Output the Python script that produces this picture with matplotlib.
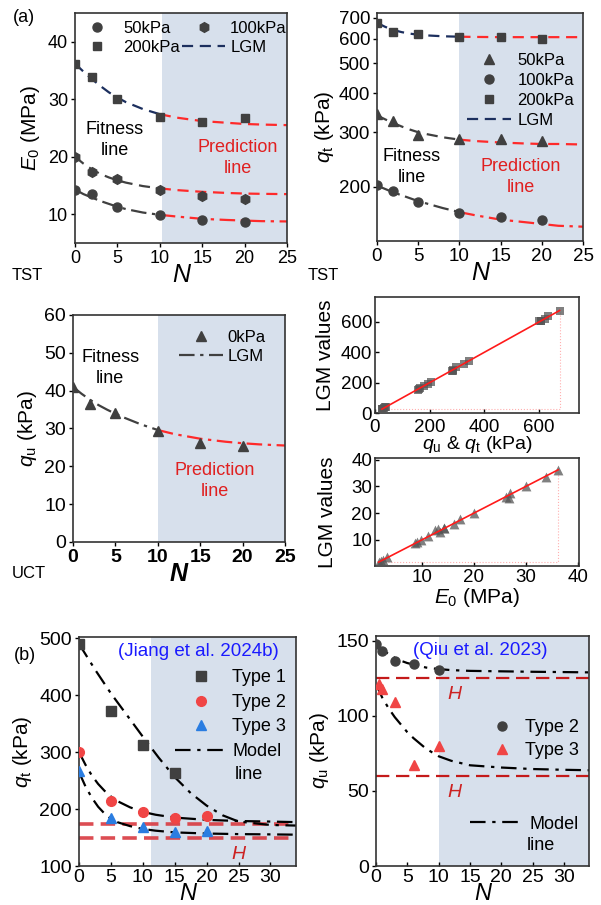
import matplotlib
matplotlib.use("Agg")
import matplotlib.pyplot as plt
from matplotlib.lines import Line2D
from matplotlib.ticker import FixedLocator, FixedFormatter, NullLocator
import numpy as np

plt.rcParams['font.family'] = ['Liberation Sans', 'DejaVu Sans']
plt.rcParams['mathtext.fontset'] = 'custom'
plt.rcParams['mathtext.rm'] = 'Liberation Sans'
plt.rcParams['mathtext.it'] = 'Liberation Sans:italic'

# ---- data: TST / UCT measurements ----
N_test = [0, 2, 5, 10, 15, 20]
E0_50 = [14.3, 13.5, 11.2, 9.9, 9.0, 8.7]
E0_100 = [20.0, 17.4, 16.1, 14.3, 13.2, 12.6]
E0_200 = [36.2, 33.8, 30.0, 26.9, 26.1, 26.7]
qt_50 = [343, 325, 295, 286, 286, 281]
qt_100 = [203, 194, 179, 165, 160, 157]
qt_200 = [675, 632, 620, 608, 608, 600]
qu_0 = [40.9, 36.6, 34.1, 29.3, 26.1, 25.3]

# ---- LGM curves ----
N_lgm = [0, 1, 2, 3, 4, 5, 6, 8, 10, 12, 15, 18, 20, 22, 25]
E0_50_lgm = [14.3, 13.5, 12.9, 12.3, 11.8, 11.3, 10.9, 10.3, 9.9, 9.6, 9.2, 9.0, 8.9, 8.8, 8.75]
E0_100_lgm = [20.0, 18.8, 17.8, 17.0, 16.4, 15.9, 15.5, 14.9, 14.5, 14.2, 13.9, 13.7, 13.6, 13.55, 13.5]
E0_200_lgm = [36.2, 34.8, 33.5, 32.3, 31.2, 30.3, 29.5, 28.3, 27.4, 26.8, 26.2, 25.9, 25.7, 25.6, 25.5]
qt_50_lgm = [340, 330, 321, 313, 306, 300, 296, 289, 284, 281, 278, 276, 275, 275, 274]
qt_100_lgm = [202, 197, 192, 188, 184, 180, 177, 171, 166, 162, 157, 154, 152, 150, 149]
qt_200_lgm = [675, 655, 640, 630, 623, 618, 615, 611, 609, 608, 607, 607, 607, 607, 607]
qu_0_lgm = [41, 39.2, 37.6, 36.2, 35.0, 33.9, 32.9, 31.1, 29.6, 28.5, 27.3, 26.5, 26.1, 25.8, 25.5]

# ---- measured vs LGM ----
q_meas = [41, 36.6, 34.1, 29.3, 26.1, 25.3, 343, 325, 295, 286, 286, 281,
          203, 194, 179, 165, 160, 157, 675, 632, 620, 608, 608, 600]
q_lgm = [41, 37.6, 33.9, 29.6, 27.3, 26.1, 340, 321, 300, 284, 278, 275,
         202, 192, 180, 166, 157, 152, 675, 640, 618, 609, 607, 607]
E_meas = [1.8, 2.2, 2.6, 3.4, 14.3, 13.5, 11.2, 9.9, 9.0, 8.7, 20.0, 17.4,
          16.1, 14.3, 13.2, 12.6, 36.2, 33.8, 30.0, 26.9, 26.1, 26.7]
E_lgm = [1.7, 2.3, 2.5, 3.5, 14.3, 12.9, 11.3, 9.9, 9.2, 8.9, 20.0, 17.8,
         15.9, 14.5, 13.9, 13.6, 36.2, 33.5, 30.3, 27.4, 26.2, 25.7]

# ---- (b) Jiang et al. 2024b ----
N_jiang = [0, 5, 10, 15, 20]
jiang_t1 = [490, 372, 313, 263]
jiang_t2 = [300, 214, 195, 184, 187]
jiang_t3 = [267, 184, 168, 160, 162]
N_jm1 = [0, 2.5, 5, 7.5, 10, 12.5, 15, 17.5, 20, 22.5, 25, 30, 34]
jiang_m1 = [490, 445, 403, 365, 327, 290, 256, 228, 206, 189, 178, 172, 171]
N_jm = [0, 1, 2, 3, 4, 5, 6, 8, 10, 12, 15, 20, 25, 30, 34]
jiang_m2 = [300, 278, 259, 244, 232, 222, 214, 203, 195, 190, 185, 181, 179, 178, 177]
jiang_m3 = [265, 240, 220, 204, 192, 183, 177, 170, 165, 162, 159, 157, 156, 155.5, 155]
jiang_H = [173, 150]

# ---- (b) Qiu et al. 2023 ----
N_qiu2 = [0, 1, 3, 6, 10]
qiu_t2 = [147.8, 142.9, 136.2, 134.4, 130.5]
N_qiu3 = [0.5, 1, 3, 6, 10]
qiu_t3 = [121, 118, 109, 67, 80]
N_qm = [0, 1, 2, 3, 4, 5, 6, 8, 10, 12, 15, 20, 25, 30, 34]
qiu_m2 = [148, 144, 141, 138.5, 136.5, 135, 134, 132, 131, 130.3, 129.8, 129.5, 129.2, 129, 128.8]
qiu_m3 = [121, 112, 105, 99, 94, 89, 85, 78, 73, 70, 67, 65.5, 64.5, 64, 63.7]
qiu_H = [125, 60]

GREY = '#404040'
NAVY = '#1c2f5e'
RED = '#ff2a2a'
SHADE = '#d7e0ec'
W, H = 601, 905

fig = plt.figure(figsize=(W / 100, H / 100), dpi=100)


def add_ax(x0, y0, x1, y1):
    return fig.add_axes([x0 / W, 1 - y1 / H, (x1 - x0) / W, (y1 - y0) / H])


def style(ax, size=13.5):
    for s in ax.spines.values():
        s.set_color('#333333')
        s.set_linewidth(1.2)
    ax.tick_params(labelsize=size, direction='out', length=3, width=1, pad=2)


def split_curve(ax, xs, ys, ls, c_fit, cut=10):
    xs = np.asarray(xs, float)
    ys = np.asarray(ys, float)
    m1 = xs <= cut
    m2 = xs >= cut
    ax.plot(xs[m1], ys[m1], ls=ls, color=c_fit, lw=1.6, zorder=2)
    ax.plot(xs[m2], ys[m2], ls=ls, color=RED, lw=1.6, zorder=2)


DASH = (0, (5, 3))
DASHDOT = (0, (7, 2.5, 1.5, 2.5))
MODEL = (0, (7, 3, 1.5, 3))

# ================= panel 1: E0 =================
ax1 = add_ax(75, 13, 287, 243)
style(ax1, 13)
ax1.axvspan(10.3, 25, color=SHADE, zorder=0, lw=0)
split_curve(ax1, N_lgm, E0_200_lgm, DASH, NAVY)
split_curve(ax1, N_lgm, E0_100_lgm, DASH, GREY)
split_curve(ax1, N_lgm, E0_50_lgm, DASHDOT, GREY)
ax1.plot(N_test, E0_200, 's', color=GREY, ms=6, zorder=3)
ax1.plot(N_test, E0_100, 'h', color=GREY, ms=7, zorder=3)
ax1.plot(N_test, E0_50, 'o', color=GREY, ms=6.5, zorder=3)
ax1.set_xlim(0, 25)
ax1.set_ylim(5, 45)
ax1.set_xticks([0, 5, 10, 15, 20, 25])
ax1.set_yticks([10, 20, 30, 40])
ax1.set_ylabel(r'$E_0$ (MPa)', fontsize=15, labelpad=4)
ax1.set_xlabel('N', fontsize=18, style='italic', labelpad=-3)
ax1.text(4.7, 22.9, 'Fitness\nline', ha='center', va='center', fontsize=13, linespacing=1.3)
ax1.text(19.2, 19.8, 'Prediction\nline', ha='center', va='center', fontsize=13,
         color='#e02020', linespacing=1.3)
hs = [Line2D([], [], ls='', marker='o', color=GREY, ms=6.5),
      Line2D([], [], ls='', marker='s', color=GREY, ms=6),
      Line2D([], [], ls='', marker='h', color=GREY, ms=7),
      Line2D([], [], ls=DASH, color=NAVY, lw=1.6)]
ax1.legend(hs, ['50kPa', '200kPa', '100kPa', 'LGM'], ncol=2, loc='upper left',
           bbox_to_anchor=(-0.07, 1.03), frameon=False, fontsize=12,
           handlelength=2.6, handletextpad=0.3, columnspacing=0.1, labelspacing=0.25)

# ================= panel 2: qt =================
ax2 = add_ax(377, 13, 583, 241)
style(ax2)
ax2.set_yscale('log')
ax2.axvspan(10, 25, color=SHADE, zorder=0, lw=0)
split_curve(ax2, N_lgm, qt_200_lgm, DASH, NAVY)
split_curve(ax2, N_lgm, qt_50_lgm, DASH, GREY)
split_curve(ax2, N_lgm, qt_100_lgm, DASHDOT, GREY)
ax2.plot(N_test, qt_50, '^', color=GREY, ms=7, zorder=3)
ax2.plot(N_test, qt_100, 'o', color=GREY, ms=6.5, zorder=3)
ax2.plot(N_test, qt_200, 's', color=GREY, ms=6, zorder=3)
ax2.set_xlim(0, 25)
ax2.set_ylim(134, 726)
ax2.yaxis.set_major_locator(FixedLocator([200, 300, 400, 500, 600, 700]))
ax2.yaxis.set_major_formatter(FixedFormatter(['200', '300', '400', '500', '600', '700']))
ax2.yaxis.set_minor_locator(NullLocator())
ax2.set_xticks([0, 5, 10, 15, 20, 25])
ax2.set_ylabel(r'$q_{\rm t}$ (kPa)', fontsize=15, labelpad=2)
ax2.set_xlabel('N', fontsize=18, style='italic', labelpad=-3)
ax2.text(4.25, 232, 'Fitness\nline', ha='center', va='center', fontsize=13, linespacing=1.3)
ax2.text(17.4, 215, 'Prediction\nline', ha='center', va='center', fontsize=13,
         color='#e02020', linespacing=1.3)
hs = [Line2D([], [], ls='', marker='^', color=GREY, ms=7),
      Line2D([], [], ls='', marker='o', color=GREY, ms=6.5),
      Line2D([], [], ls='', marker='s', color=GREY, ms=6),
      Line2D([], [], ls=DASH, color=NAVY, lw=1.6)]
ax2.legend(hs, ['50kPa', '100kPa', '200kPa', 'LGM'], loc='upper right',
           bbox_to_anchor=(1.03, 0.89), frameon=False, fontsize=12,
           handlelength=2.6, handletextpad=0.4, labelspacing=0.3)

# ================= panel 3: qu =================
ax3 = add_ax(73, 315, 285, 542)
style(ax3, 14)
ax3.axvspan(10, 25, color=SHADE, zorder=0, lw=0)
split_curve(ax3, N_lgm, qu_0_lgm, DASHDOT, GREY)
ax3.plot(N_test, qu_0, '^', color=GREY, ms=7, zorder=3)
ax3.set_xlim(0, 25)
ax3.set_ylim(0, 60)
ax3.set_xticks([0, 5, 10, 15, 20, 25])
ax3.set_yticks([0, 10, 20, 30, 40, 50, 60])
for t in ax3.get_xticklabels():
    t.set_fontweight('bold')
ax3.set_ylabel(r'$q_{\rm u}$ (kPa)', fontsize=15, labelpad=4)
ax3.set_xlabel('N', fontsize=18, style='italic', fontweight='bold', labelpad=-3)
ax3.text(4.4, 46, 'Fitness\nline', ha='center', va='center', fontsize=13, linespacing=1.3)
ax3.text(16.7, 16.2, 'Prediction\nline', ha='center', va='center', fontsize=13,
         color='#e02020', linespacing=1.3)
hs = [Line2D([], [], ls='', marker='^', color=GREY, ms=7),
      Line2D([], [], ls=DASHDOT, color=GREY, lw=1.6)]
ax3.legend(hs, ['0kPa', 'LGM'], loc='upper right', bbox_to_anchor=(0.98, 1.0),
           frameon=False, fontsize=12, handlelength=2.6, handletextpad=0.3,
           labelspacing=0.25)

# ================= panel 4: measured vs LGM =================
ax4 = add_ax(375, 297, 579, 413)
style(ax4)
ax4.tick_params(direction='in')
ax4.tick_params(axis='x', pad=4)
ax4.scatter(q_meas, q_lgm, marker='s', s=40, color='#555555', alpha=0.75, lw=0, zorder=3)
lo, hi = min(q_meas + q_lgm), max(q_meas + q_lgm)
ax4.plot([lo, hi], [lo, hi], color='#ff1a1a', lw=1.2, zorder=4)
ax4.plot([lo, hi, hi], [lo, lo, hi], color='#ffb0b0', lw=0.8, ls=':', zorder=2)
ax4.set_xlim(0, 746)
ax4.set_ylim(0, 764)
ax4.set_xticks([0, 200, 400, 600])
ax4.set_yticks([0, 200, 400, 600])
ax4.set_xlabel(r'$q_{\rm u}$ & $q_{\rm t}$ (kPa)', fontsize=14, labelpad=-1)
ax4.set_ylabel('LGM values', fontsize=15, labelpad=4)

ax5 = add_ax(375, 458, 579, 566)
style(ax5)
ax5.tick_params(direction='in')
ax5.scatter(E_meas, E_lgm, marker='^', s=50, color='#555555', alpha=0.75, lw=0, zorder=3)
lo, hi = min(E_meas + E_lgm), max(E_meas + E_lgm)
ax5.plot([lo, hi], [lo, hi], color='#ff1a1a', lw=1.2, zorder=4)
ax5.plot([lo, hi, hi], [lo, lo, hi], color='#ffb0b0', lw=0.8, ls=':', zorder=2)
ax5.set_xlim(1, 40.2)
ax5.set_ylim(0.25, 40.6)
ax5.set_xticks([10, 20, 30, 40])
ax5.set_yticks([10, 20, 30, 40])
ax5.set_xlabel(r'$E_0$ (MPa)', fontsize=15, labelpad=0)
ax5.set_ylabel('LGM values', fontsize=15, labelpad=10)

# ================= panel 5: Jiang =================
ax6 = add_ax(79, 637, 296, 866)
style(ax6, 14)
ax6.tick_params(axis='x', direction='in', pad=2)
ax6.axvspan(11.3, 34, color=SHADE, zorder=0, lw=0)
for h in jiang_H:
    ax6.axhline(h, color='#d93a40', lw=2.6, ls=(0, (4, 2)), alpha=0.9, zorder=1)
ax6.plot(N_jm1, jiang_m1, color='black', ls=MODEL, lw=1.6, zorder=2)
ax6.plot(N_jm, jiang_m2, color='black', ls=MODEL, lw=1.6, zorder=2)
ax6.plot(N_jm, jiang_m3, color='black', ls=MODEL, lw=1.6, zorder=2)
ax6.plot(N_jiang[:len(jiang_t1)], jiang_t1, 's', color=GREY, ms=6.5, zorder=3)
ax6.plot(N_jiang, jiang_t2, 'o', color='#f04545', ms=7, zorder=3)
ax6.plot(N_jiang, jiang_t3, '^', color='#2a7de1', ms=7.5, zorder=3)
ax6.set_xlim(0, 34)
ax6.set_ylim(100, 502)
ax6.set_xticks([0, 5, 10, 15, 20, 25, 30])
ax6.set_yticks([100, 200, 300, 400, 500])
ax6.set_ylabel(r'$q_{\rm t}$ (kPa)', fontsize=15, labelpad=4)
ax6.set_xlabel('N', fontsize=17, style='italic', labelpad=-3)
ax6.text(0.55, 0.935, '(Jiang et al. 2024b)', transform=ax6.transAxes, ha='center',
         va='center', fontsize=13.5, color='#1a1aff')
ax6.text(25, 120, 'H', fontsize=14, style='italic', color='#cc2222', ha='center', va='center')
hs = [Line2D([], [], ls='', marker='s', color=GREY, ms=6.5),
      Line2D([], [], ls='', marker='o', color='#f04545', ms=7),
      Line2D([], [], ls='', marker='^', color='#2a7de1', ms=7.5),
      Line2D([], [], ls=MODEL, color='black', lw=1.6)]
ax6.legend(hs, ['Type 1', 'Type 2', 'Type 3', 'Model'], loc='upper right',
           bbox_to_anchor=(1.03, 0.93), frameon=False, fontsize=13,
           handlelength=2.9, handletextpad=0.3, labelspacing=0.42)
ax6.text(0.72, 0.40, 'line', transform=ax6.transAxes, fontsize=13, va='center')

# ================= panel 6: Qiu =================
ax7 = add_ax(376, 636, 589, 866)
style(ax7, 14)
ax7.tick_params(axis='x', direction='in', pad=2)
ax7.axvspan(10, 34, color=SHADE, zorder=0, lw=0)
for h in qiu_H:
    ax7.axhline(h, color='#c41a1a', lw=1.6, ls=(0, (6, 3)), zorder=1)
ax7.plot(N_qm, qiu_m2, color='black', ls=MODEL, lw=1.6, zorder=2)
ax7.plot(N_qm, qiu_m3, color='black', ls=MODEL, lw=1.6, zorder=2)
ax7.plot(N_qiu2, qiu_t2, 'o', color=GREY, ms=6.5, zorder=3)
ax7.plot(N_qiu3, qiu_t3, '^', color='#f04545', ms=7.5, zorder=3)
ax7.set_xlim(0, 34)
ax7.set_ylim(0, 153)
ax7.set_xticks([0, 5, 10, 15, 20, 25, 30])
ax7.set_yticks([0, 50, 100, 150])
ax7.set_ylabel(r'$q_{\rm u}$ (kPa)', fontsize=15, labelpad=4)
ax7.set_xlabel('N', fontsize=17, style='italic', labelpad=-3)
ax7.text(0.49, 0.935, '(Qiu et al. 2023)', transform=ax7.transAxes, ha='center',
         va='center', fontsize=13.5, color='#1a1aff')
for h in qiu_H:
    ax7.text(12.6, h - 11, 'H', fontsize=14, style='italic', color='#cc2222',
             ha='center', va='center')
hs = [Line2D([], [], ls='', marker='o', color=GREY, ms=6.5),
      Line2D([], [], ls='', marker='^', color='#f04545', ms=7.5)]
leg = ax7.legend(hs, ['Type 2', 'Type 3'], loc='upper right', bbox_to_anchor=(1.03, 0.71),
                 frameon=False, fontsize=13, handletextpad=0.3, labelspacing=0.35)
ax7.add_artist(leg)
ax7.legend([Line2D([], [], ls=MODEL, color='black', lw=1.6)], ['Model'], loc='upper right',
           bbox_to_anchor=(1.03, 0.29), frameon=False, fontsize=13, handlelength=3.0,
           handletextpad=0.3)
ax7.text(0.71, 0.09, 'line', transform=ax7.transAxes, fontsize=13, va='center')

# ---- panel tags ----
fig.text(13 / W, 1 - 17 / H, '(a)', fontsize=13, va='center')
fig.text(12 / W, 1 - 275 / H, 'TST', fontsize=12, va='center')
fig.text(308 / W, 1 - 275 / H, 'TST', fontsize=12, va='center')
fig.text(12 / W, 1 - 573 / H, 'UCT', fontsize=12, va='center')
fig.text(14 / W, 1 - 655 / H, '(b)', fontsize=13, va='center')

fig.savefig('out.png', dpi=100)
